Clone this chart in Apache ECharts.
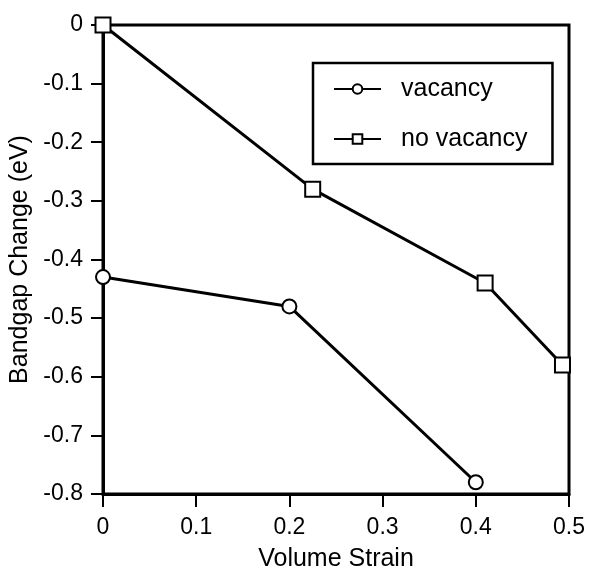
<!DOCTYPE html>
<html>
<head>
<meta charset="utf-8">
<script src="https://cdn.jsdelivr.net/npm/echarts@6/dist/echarts.min.js"></script>
<style>
  html, body { margin: 0; padding: 0; background: #fff; }
  #chart { width: 590px; height: 568px; }
</style>
</head>
<body>
<div id="chart"></div>
<script>
// values
const vacancyStrain = [0, 0.2, 0.4];
const vacancyGap = [-0.43, -0.48, -0.78];
const noVacancyStrain = [0, 0.225, 0.41, 0.493];
const noVacancyGap = [0, -0.28, -0.44, -0.58];
const seriesNames = ['vacancy', 'no vacancy'];

const font = 'Liberation Sans, Arial, Helvetica, sans-serif';

const pairs = (xs, ys) => xs.map((x, i) => [x, ys[i]]);

const option = {
  backgroundColor: '#fff',
  animation: false,
  grid: {
    left: 103, right: 21, top: 25, bottom: 74,
    outerBoundsMode: 'none',
    containLabel: false,
    show: true,
    borderColor: '#000',
    borderWidth: 3
  },
  legend: {
    orient: 'vertical',
    left: 313,
    top: 63,
    data: seriesNames,
    itemWidth: 47,
    itemHeight: 12,
    itemGap: 24,
    padding: [13, 25, 12, 20],
    borderColor: '#000',
    borderWidth: 2.5,
    textStyle: {
      color: '#000',
      fontFamily: font,
      fontSize: 25,
      lineHeight: 26,
      padding: [0, 0, 0, 15]
    }
  },
  xAxis: {
    type: 'value',
    min: 0,
    max: 0.5,
    interval: 0.1,
    name: 'Volume Strain',
    nameLocation: 'middle',
    nameGap: 53,
    nameTextStyle: { color: '#000', fontFamily: font, fontSize: 25 },
    axisLine: { onZero: false, lineStyle: { color: '#000', width: 3 } },
    axisTick: { length: 13, lineStyle: { color: '#000', width: 2 } },
    axisLabel: { color: '#000', fontFamily: font, fontSize: 23, margin: 22 },
    splitLine: { show: false }
  },
  yAxis: {
    type: 'value',
    min: -0.8,
    max: 0,
    interval: 0.1,
    name: 'Bandgap Change (eV)',
    nameLocation: 'middle',
    nameGap: 62,
    nameTextStyle: { color: '#000', fontFamily: font, fontSize: 25 },
    axisLine: { onZero: false, lineStyle: { color: '#000', width: 3 } },
    axisTick: { length: 12, lineStyle: { color: '#000', width: 2 } },
    axisLabel: { color: '#000', fontFamily: font, fontSize: 23, margin: 20 },
    splitLine: { show: false }
  },
  series: [
    {
      name: seriesNames[0],
      type: 'line',
      data: pairs(vacancyStrain, vacancyGap),
      symbol: 'emptyCircle',
      symbolSize: 14,
      clip: false,
      color: '#000',
      lineStyle: { color: '#000', width: 3 },
      itemStyle: { color: '#000', borderColor: '#000', borderWidth: 2.5 }
    },
    {
      name: seriesNames[1],
      type: 'line',
      data: pairs(noVacancyStrain, noVacancyGap),
      symbol: 'emptyRect',
      symbolSize: 15,
      clip: false,
      color: '#000',
      lineStyle: { color: '#000', width: 3 },
      itemStyle: { color: '#000', borderColor: '#000', borderWidth: 1.8 }
    }
  ]
};

const chart = echarts.init(document.getElementById('chart'));
chart.setOption(option);
</script>
</body>
</html>
